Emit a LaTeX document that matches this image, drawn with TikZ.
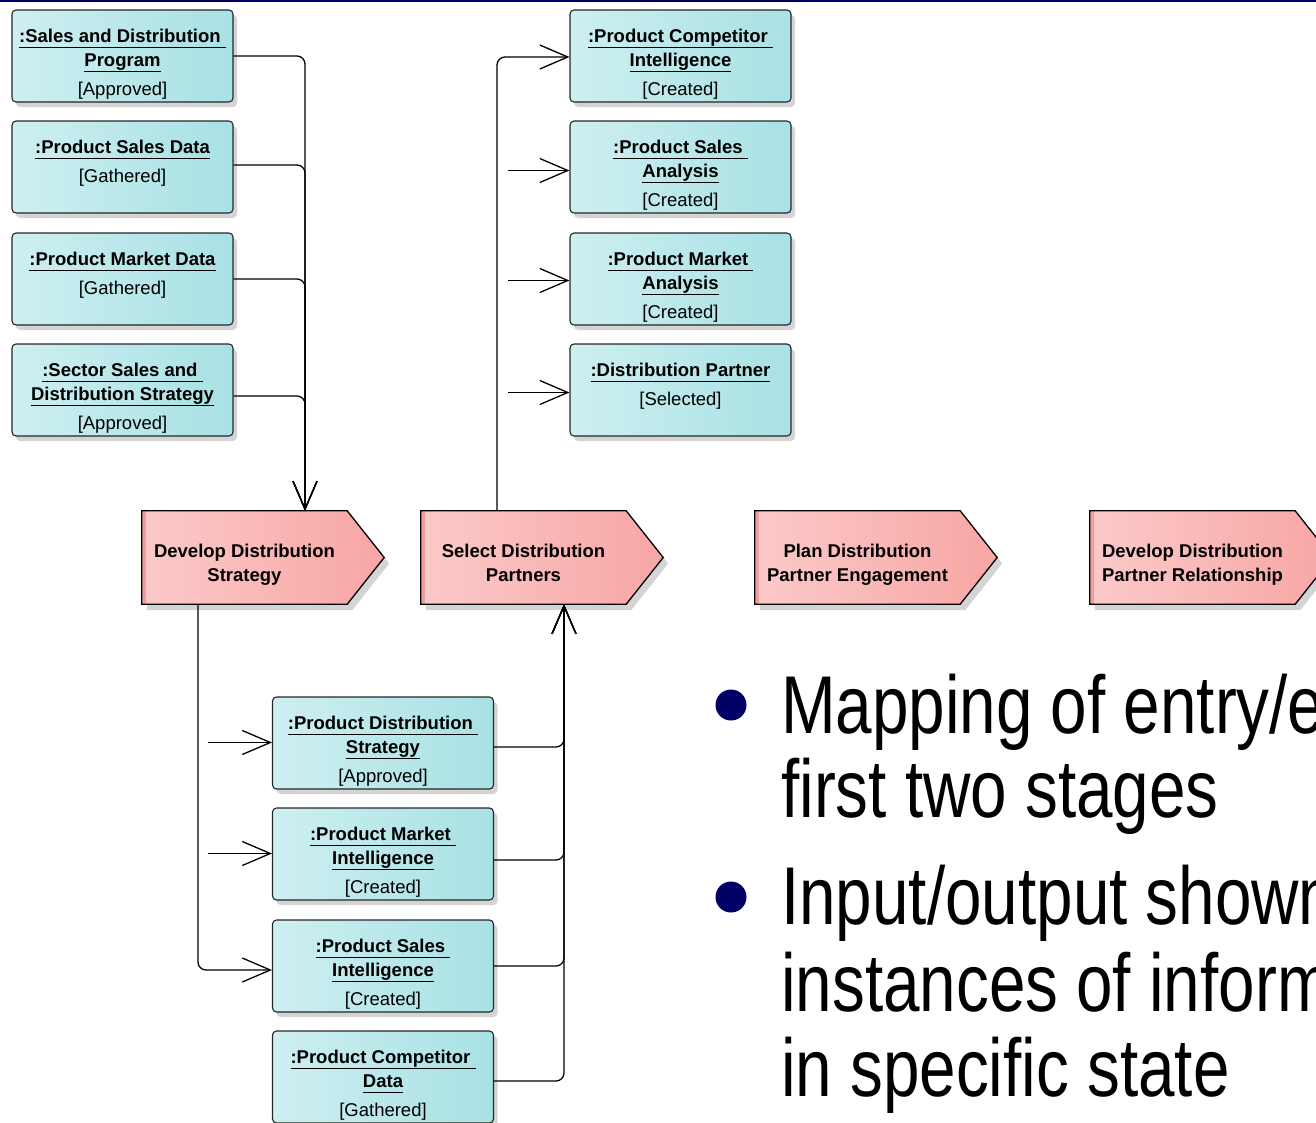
\documentclass[tikz,border=0pt]{standalone}
\usepackage{fontspec}
\setmainfont{Liberation Sans}
\newfontfamily\narrowfont[FakeStretch=0.8]{Liberation Sans}
\usetikzlibrary{arrows.meta,shadows,backgrounds}
\newcommand\ulx[1]{\sbox0{#1}\rlap{\rule[-5.5pt]{\wd0}{1.5pt}}\usebox0}
\definecolor{objL}{RGB}{206,239,241}
\definecolor{objR}{RGB}{168,225,228}
\definecolor{stgL}{RGB}{251,202,201}
\definecolor{stgR}{RGB}{247,166,164}
\definecolor{stgS}{RGB}{238,158,158}
\definecolor{navy}{RGB}{0,0,102}
\definecolor{shad}{RGB}{212,212,212}
\begin{document}
\begin{tikzpicture}[x=1pt,y=-1pt,
  obj/.style={draw=black!85, line width=1.1pt, rounded corners=4pt,
    left color=objL, right color=objR, minimum width=221pt, minimum height=92pt,
    inner sep=0pt, drop shadow={shadow xshift=4pt, shadow yshift=-5pt, fill=shad, opacity=1}},
  objtext/.style={anchor=north, inner sep=0pt, align=center,
    font=\bfseries\fontsize{18.5}{24}\selectfont},
  stage/.style={minimum width=205pt, minimum height=93pt, inner sep=0pt},
  stgtext/.style={anchor=north, align=center, inner sep=0pt,
    font=\bfseries\fontsize{18.5}{24}\selectfont},
  conn/.style={line width=1.3pt, rounded corners=8pt},
  arr/.style={-{Straight Barb[length=28pt,width=24pt]}},
  bul/.style={anchor=base west, inner sep=0pt, font=\narrowfont\fontsize{82}{84}\selectfont}
]
\useasboundingbox (0,0) rectangle (1316,1122);
\clip (0,0) rectangle (1316,1122);
\fill[navy] (0,0) rectangle (1316,1.6);

% ---- left input objects
\node[obj] (o1) at (122.5,56) {};
\node[obj] (o2) at (122.5,167) {};
\node[obj] (o3) at (122.5,279) {};
\node[obj] (o4) at (122.5,390) {};
\node[objtext] (o1t) at ([yshift=-19.7pt]o1.north) {\ulx{:Sales and Distribution\ }\\\ulx{Program}\\[4.5pt]{\mdseries [Approved]}};
\node[objtext] (o2t) at ([yshift=-19.7pt]o2.north) {\ulx{:Product Sales Data}\\[4.5pt]{\mdseries [Gathered]}};
\node[objtext] (o3t) at ([yshift=-19.7pt]o3.north) {\ulx{:Product Market Data}\\[4.5pt]{\mdseries [Gathered]}};
\node[objtext] (o4t) at ([yshift=-19.7pt]o4.north) {\ulx{:Sector Sales and\ }\\\ulx{Distribution Strategy}\\[4.5pt]{\mdseries [Approved]}};

% ---- right output objects
\node[obj] (r1) at (680.5,56) {};
\node[obj] (r2) at (680.5,167) {};
\node[obj] (r3) at (680.5,279) {};
\node[obj] (r4) at (680.5,390) {};
\node[objtext] (r1t) at ([yshift=-19.7pt]r1.north) {\ulx{:Product Competitor\ }\\\ulx{Intelligence}\\[4.5pt]{\mdseries [Created]}};
\node[objtext] (r2t) at ([yshift=-19.7pt]r2.north) {\ulx{:Product Sales\ }\\\ulx{Analysis}\\[4.5pt]{\mdseries [Created]}};
\node[objtext] (r3t) at ([yshift=-19.7pt]r3.north) {\ulx{:Product Market\ }\\\ulx{Analysis}\\[4.5pt]{\mdseries [Created]}};
\node[objtext] (r4t) at ([yshift=-19.7pt]r4.north) {\ulx{:Distribution Partner}\\[4.5pt]{\mdseries [Selected]}};

% ---- bottom objects
\node[obj] (b1) at (383,743) {};
\node[obj] (b2) at (383,854) {};
\node[obj] (b3) at (383,966) {};
\node[obj] (b4) at (383,1077) {};
\node[objtext] (b1t) at ([yshift=-19.7pt]b1.north) {\ulx{:Product Distribution\ }\\\ulx{Strategy}\\[4.5pt]{\mdseries [Approved]}};
\node[objtext] (b2t) at ([yshift=-19.7pt]b2.north) {\ulx{:Product Market\ }\\\ulx{Intelligence}\\[4.5pt]{\mdseries [Created]}};
\node[objtext] (b3t) at ([yshift=-19.7pt]b3.north) {\ulx{:Product Sales\ }\\\ulx{Intelligence}\\[4.5pt]{\mdseries [Created]}};
\node[objtext] (b4t) at ([yshift=-19.7pt]b4.north) {\ulx{:Product Competitor\ }\\\ulx{Data}\\[4.5pt]{\mdseries [Gathered]}};

% ---- stages
\node[stage] (ds) at (244.5,557.5) {};
\node[stage] (sp) at (523.5,557.5) {};
\node[stage] (pe) at (857.5,557.5) {};
\node[stage] (pr) at (1192.5,557.5) {};
\node[stgtext] (dst) at ([yshift=-33.2pt]ds.north) {Develop Distribution\\Strategy};
\node[stgtext] (spt) at ([yshift=-33.2pt]sp.north) {Select Distribution\\Partners};
\node[stgtext] (pet) at ([yshift=-33.2pt]pe.north) {Plan Distribution\\Partner Engagement};
\node[stgtext] (prt) at ([yshift=-33.2pt]pr.north) {Develop Distribution\\Partner Relationship};
\begin{pgfonlayer}{background}
\foreach \n in {ds,sp,pe,pr}{
  \fill[shad] ([shift={(5pt,-6pt)}]\n.north west) -- ([shift={(5pt,-6pt)}]\n.north east)
    -- ([shift={(42pt,-6pt)}]\n.east) -- ([shift={(5pt,-6pt)}]\n.south east)
    -- ([shift={(5pt,-6pt)}]\n.south west) -- cycle;
  \shade[left color=stgL, right color=stgR] (\n.north west) -- (\n.north east)
    -- ([xshift=37pt]\n.east) -- (\n.south east) -- (\n.south west) -- cycle;
  \fill[stgS] (\n.north west) rectangle ([xshift=4pt]\n.south west);
  \draw[line width=1.3pt, line join=miter] (\n.north west) -- (\n.north east)
    -- ([xshift=37pt]\n.east) -- (\n.south east) -- (\n.south west) -- cycle;
}
\end{pgfonlayer}

% ---- connectors: inputs of Develop Distribution Strategy
\coordinate (dsin) at ([xshift=60.5pt]ds.north);
\draw[conn,arr] (o1.east) -| (dsin);
\draw[conn,arr] ([yshift=2pt]o2.east) -| (dsin);
\draw[conn,arr] (o3.east) -| (dsin);
\draw[conn,arr] ([yshift=-6pt]o4.east) -| (dsin);

% ---- outputs of Develop Distribution Strategy
\draw[conn,arr] ([xshift=-46.5pt]ds.south) |- ([yshift=-4pt]b3.west);
\coordinate (f1) at (208,742.5);
\coordinate (f2) at (208,853.5);
\draw[conn,arr] (f1) -- (f1 -| b1.west);
\draw[conn,arr] (f2) -- (f2 -| b2.west);

% ---- inputs of Select Distribution Partners
\coordinate (spin) at ([xshift=40.5pt]sp.south);
\draw[conn,arr] ([yshift=-4pt]b1.east) -| (spin);
\draw[conn,arr] ([yshift=-6pt]b2.east) -| (spin);
\draw[conn,arr] (b3.east) -| (spin);
\draw[conn,arr] ([yshift=-4pt]b4.east) -| (spin);

% ---- outputs of Select Distribution Partners
\draw[conn,arr] ([xshift=-26.5pt]sp.north) |- ([yshift=-1pt]r1.west);
\coordinate (g2) at (508,170.5);
\coordinate (g3) at (508,280.5);
\coordinate (g4) at (508,392.5);
\draw[conn,arr] (g2) -- (g2 -| r2.west);
\draw[conn,arr] (g3) -- (g3 -| r3.west);
\draw[conn,arr] (g4) -- (g4 -| r4.west);

% ---- bullets
\fill[navy] (731,705) circle (15.5);
\fill[navy] (731,897) circle (15.5);
\node[bul] (l1) at (781,733) {Mapping of entry/e};
\node[bul] (l2) at (781,817) {first two stages};
\node[bul] (l3) at (781,924) {Input/output shown};
\node[bul] (l4) at (781,1011) {instances of inform};
\node[bul] (l5) at (781,1096) {in specific state};
\end{tikzpicture}
\end{document}
